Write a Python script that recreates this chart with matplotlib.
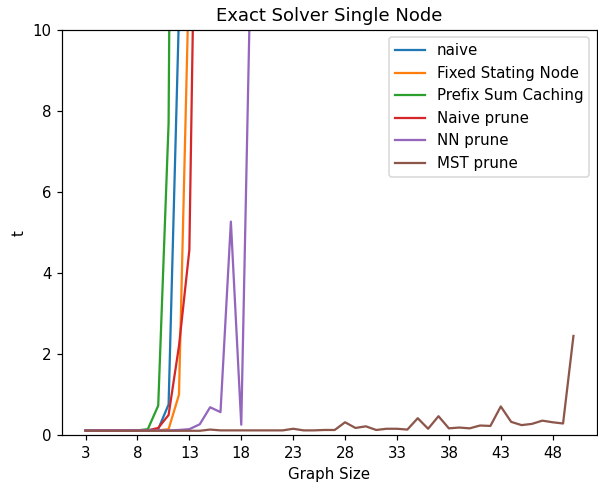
import numpy as np
import matplotlib
matplotlib.use('Agg')
import matplotlib.pyplot as plt

# graph sizes and solver times (values above 10 run off the top of the chart)
x_naive = list(range(3, 14))
t_naive = [0.12, 0.12, 0.12, 0.12, 0.12, 0.12, 0.12, 0.15, 0.76, 10.4, 120.0]

x_fixed = list(range(3, 14))
t_fixed = [0.12, 0.12, 0.12, 0.12, 0.12, 0.12, 0.12, 0.12, 0.15, 1.0, 11.7]

x_prefix = list(range(3, 13))
t_prefix = [0.12, 0.12, 0.12, 0.12, 0.12, 0.12, 0.15, 0.73, 7.7, 45.0]

x_nprune = list(range(3, 15))
t_nprune = [0.12, 0.12, 0.12, 0.12, 0.12, 0.12, 0.12, 0.18, 0.5, 2.2, 4.57, 21.0]

x_nn = list(range(3, 20))
t_nn = [0.12, 0.12, 0.12, 0.12, 0.12, 0.12, 0.12, 0.12, 0.12, 0.13, 0.15,
        0.27, 0.69, 0.57, 5.27, 0.26, 12.8]

x_mst = list(range(3, 51))
t_mst = [0.11, 0.11, 0.11, 0.11, 0.11, 0.11, 0.11, 0.11, 0.11, 0.11, 0.11, 0.11,
         0.14, 0.12, 0.12, 0.12, 0.12, 0.12, 0.12, 0.12, 0.16, 0.12, 0.12, 0.13,
         0.13, 0.32, 0.18, 0.22, 0.13, 0.16, 0.16, 0.14, 0.42, 0.16, 0.47, 0.17,
         0.19, 0.17, 0.24, 0.23, 0.71, 0.33, 0.25, 0.28, 0.36, 0.32, 0.29, 2.45]

labels = ['naive', 'Fixed Stating Node', 'Prefix Sum Caching', 'Naive prune', 'NN prune', 'MST prune']

dpi = 108
fig = plt.figure(figsize=(598 / dpi, 482 / dpi), dpi=dpi)
ax = fig.add_axes([0.104, 0.097, 0.894, 0.841])

ax.plot(x_naive, t_naive, label=labels[0])
ax.plot(x_fixed, t_fixed, label=labels[1])
ax.plot(x_prefix, t_prefix, label=labels[2])
ax.plot(x_nprune, t_nprune, label=labels[3])
ax.plot(x_nn, t_nn, label=labels[4])
ax.plot(x_mst, t_mst, label=labels[5])

ax.set_ylim(0, 10)
ax.set_xlim(0.75, 52.25)
ax.set_xticks(range(3, 51, 5))
ax.set_xlabel('Graph Size')
ax.set_ylabel('t')
ax.set_title('Exact Solver Single Node')
ax.legend(loc='upper right')

fig.savefig('out.png', dpi=dpi)
